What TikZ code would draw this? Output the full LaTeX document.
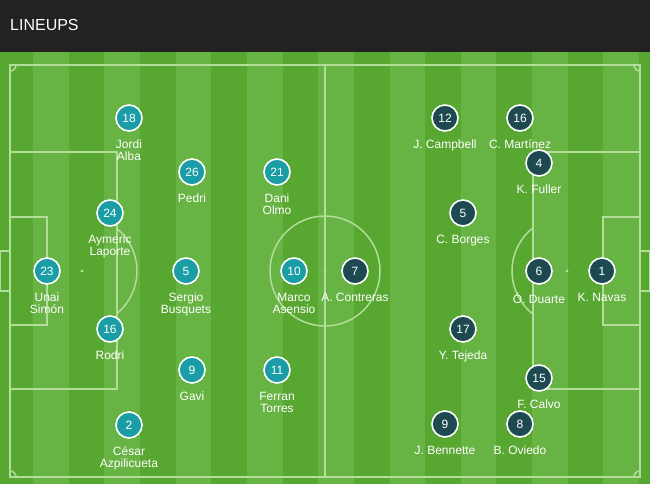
\documentclass[tikz,border=0pt]{standalone}
\usepackage{fontspec}
\setmainfont{Liberation Sans}
\usepackage{tikz}
\usetikzlibrary{positioning}
\definecolor{headbg}{HTML}{222222}
\definecolor{pitchdark}{HTML}{58A731}
\definecolor{pitchlight}{HTML}{67B343}
\definecolor{pitchline}{HTML}{B2DD9A}
\definecolor{spain}{HTML}{1B9DA5}
\definecolor{costa}{HTML}{1D4A51}
\tikzstyle{spaindot}=[circle,draw=white,fill=spain,line width=1.6pt,
                      inner sep=0pt,minimum size=26pt,text=white,
                      font=\fontsize{12}{12}\selectfont]
\tikzstyle{costadot}=[spaindot,fill=costa]
\tikzstyle{plname}=[text=white,align=center,inner sep=0pt,
                    font=\fontsize{12}{12}\selectfont]
\tikzstyle{pline}=[draw=pitchline,line width=1.5pt]

\begin{document}
\begin{tikzpicture}[x=1pt,y=-1pt]
    \useasboundingbox (0,0) rectangle (650,484);
    % header and striped grass
    \fill[headbg] (0,0) rectangle (650,52);
    \node[anchor=base west,inner sep=0pt,text=white,
          font=\fontsize{16}{16}\selectfont] (title) at (10,30.7) {LINEUPS};
    \fill[pitchlight] (0,52) rectangle (650,484);
    \foreach \i in {0,...,9}
      \fill[pitchdark] ({-2.7+71.3*\i},52) rectangle ({33+71.3*\i},484);
    % markings
    \draw[pline] (10,65) rectangle (640,477);
    \draw[pline] (325,65) -- (325,477);
    \draw[pline] (325,271) circle[radius=55];
    \fill[pitchline] (325,271) circle[radius=1.6];
    \draw[pline] (10,152) rectangle (117,389);
    \draw[pline] (10,217) rectangle (47,325);
    \draw[pline] (0,251) rectangle (10,291);
    \fill[pitchline] (82,271) circle[radius=1.6];
    \draw[pline] (82,271) ++(-50.5:55) arc (-50.5:50.5:55);
    \draw[pline] (533,152) rectangle (640,389);
    \draw[pline] (603,217) rectangle (640,325);
    \draw[pline] (640,251) rectangle (650,291);
    \fill[pitchline] (567,271) circle[radius=1.6];
    \draw[pline] (567,271) ++(129.5:55) arc (129.5:230.5:55);
    \draw[pline] (16,65) arc (0:90:6);
    \draw[pline] (634,65) arc (180:90:6);
    \draw[pline] (10,471) arc (-90:0:6);
    \draw[pline] (634,477) arc (180:270:6);
    % Spain
    \node (s18) at (129,118) [spaindot] {18};
    \node (n18) [plname,below=8pt of s18] {Jordi\\Alba};
    \node (s26) at (192,172) [spaindot] {26};
    \node (n26) [plname,below=8pt of s26] {Pedri};
    \node (s21) at (277,172) [spaindot] {21};
    \node (n21) [plname,below=8pt of s21] {Dani\\Olmo};
    \node (s24) at (110,213) [spaindot] {24};
    \node (n24) [plname,below=8pt of s24] {Aymeric\\Laporte};
    \node (s23) at (47,271) [spaindot] {23};
    \node (n23) [plname,below=8pt of s23] {Unai\\Simón};
    \node (s5) at (186,271) [spaindot] {5};
    \node (n5) [plname,below=8pt of s5] {Sergio\\Busquets};
    \node (s10) at (294,271) [spaindot] {10};
    \node (n10) [plname,below=8pt of s10] {Marco\\Asensio};
    \node (s16) at (110,329) [spaindot] {16};
    \node (n16) [plname,below=8pt of s16] {Rodri};
    \node (s9) at (192,370) [spaindot] {9};
    \node (n9) [plname,below=8pt of s9] {Gavi};
    \node (s11) at (277,370) [spaindot] {11};
    \node (n11) [plname,below=8pt of s11] {Ferran\\Torres};
    \node (s2) at (129,425) [spaindot] {2};
    \node (n2) [plname,below=8pt of s2] {César\\Azpilicueta};
    % Costa Rica
    \node (c7) at (355,271) [costadot] {7};
    \node (m7) [plname,below=8pt of c7] {A. Contreras};
    \node (c12) at (445,118) [costadot] {12};
    \node (m12) [plname,below=8pt of c12] {J. Campbell};
    \node (c16) at (520,118) [costadot] {16};
    \node (m16) [plname,below=8pt of c16] {C. Martínez};
    \node (c4) at (539,163) [costadot] {4};
    \node (m4) [plname,below=8pt of c4] {K. Fuller};
    \node (c5) at (463,213) [costadot] {5};
    \node (m5) [plname,below=8pt of c5] {C. Borges};
    \node (c6) at (539,271) [costadot] {6};
    \node (m6) [plname,below=8pt of c6] {Ó. Duarte};
    \node (c1) at (602,271) [costadot] {1};
    \node (m1) [plname,below=8pt of c1] {K. Navas};
    \node (c17) at (463,329) [costadot] {17};
    \node (m17) [plname,below=8pt of c17] {Y. Tejeda};
    \node (c15) at (539,378) [costadot] {15};
    \node (m15) [plname,below=8pt of c15] {F. Calvo};
    \node (c9) at (445,424) [costadot] {9};
    \node (m9) [plname,below=8pt of c9] {J. Bennette};
    \node (c8) at (520,424) [costadot] {8};
    \node (m8) [plname,below=8pt of c8] {B. Oviedo};
\end{tikzpicture}
\end{document}
